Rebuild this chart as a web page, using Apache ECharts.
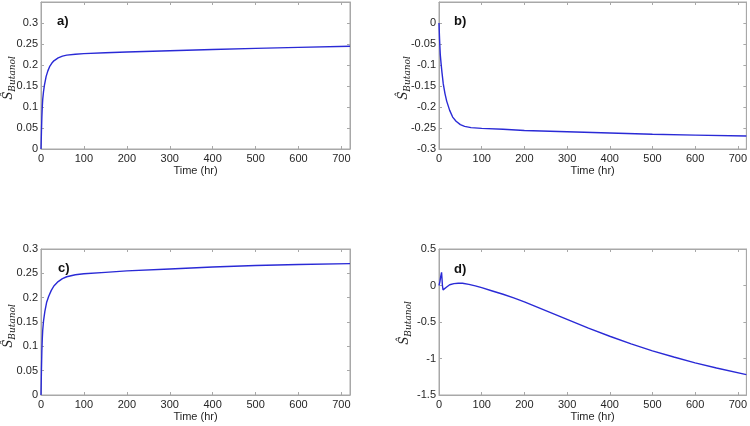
<!DOCTYPE html>
<html><head><meta charset="utf-8">
<script src="https://cdn.jsdelivr.net/npm/echarts@6/dist/echarts.min.js"></script>
<style>html,body{margin:0;padding:0;background:#fff}#c{width:750px;height:426px}</style>
</head><body><div id="c"></div>
<script>
// Panel a
const timeA = [0,1,2,3,4,6,8,12,16,20,25,30,40,50,60,80,100,150,200,300,400,500,600,720];
const valA  = [0,0.04,0.075,0.1,0.118,0.138,0.152,0.173,0.186,0.196,0.204,0.21,0.217,0.221,0.2235,0.2255,0.227,0.229,0.231,0.234,0.237,0.2395,0.242,0.2445];
// Panel b
const timeB = [0,1,2,3,5,7,10,14,18,25,32,40,50,60,75,100,150,200,300,400,500,600,720];
const valB  = [0,-0.03,-0.055,-0.075,-0.098,-0.118,-0.145,-0.168,-0.186,-0.208,-0.224,-0.234,-0.242,-0.246,-0.249,-0.251,-0.253,-0.256,-0.259,-0.262,-0.265,-0.267,-0.269];
// Panel c
const timeC = [0,1,2,3,4,6,9,13,18,24,30,40,50,60,80,100,150,200,300,400,500,600,720];
const valC  = [0,0.05,0.09,0.115,0.133,0.153,0.172,0.19,0.203,0.215,0.224,0.233,0.239,0.243,0.247,0.249,0.252,0.255,0.259,0.263,0.266,0.268,0.27];
// Panel d
const timeD = [0,2,4,6,7,8,9.5,12,18,25,35,45,55,70,85,100,125,150,175,200,250,300,350,400,450,500,550,600,650,720];
const valD  = [0,0.05,0.12,0.18,0.1,0,-0.06,-0.05,-0.02,0.01,0.025,0.03,0.03,0.015,-0.005,-0.03,-0.075,-0.12,-0.17,-0.225,-0.345,-0.465,-0.585,-0.695,-0.8,-0.895,-0.98,-1.06,-1.13,-1.22];

const panelLabels = ['a)','b)','c)','d)'];
const yTitle = '{s|Ŝ}{b|Butanol}';
const xTitle = 'Time (hr)';
const xTicks = {min:0, max:720, interval:100};
const yRanges = [
  {min:0, max:0.35, interval:0.05, hide:[0.35]},
  {min:-0.3, max:0.05, interval:0.05, hide:[0.05]},
  {min:0, max:0.3, interval:0.05, hide:[]},
  {min:-1.5, max:0.5, interval:0.5, hide:[]}
];
const series = [[timeA,valA],[timeB,valB],[timeC,valC],[timeD,valD]];

const grids = [
  {left:41, top:2, width:309, height:147},
  {left:439, top:2, width:309, height:147},
  {left:41, top:249, width:309, height:146},
  {left:439, top:249, width:309, height:146}
];
const yTitlePos = [[10,78],[405,78],[10,326],[406,323]];
const labelPos = [[52,10],[449,10],[53,257],[449,258]];

const axisColor = '#a8a8a8';
const textColor = '#262626';
const font = 'Liberation Sans, Arial, sans-serif';
const serif = 'DejaVu Serif, serif';

const option = {
  animation:false,
  backgroundColor:'#fff',
  grid: grids.map(g => Object.assign({show:true, borderColor:axisColor, borderWidth:1, containLabel:false}, g)),
  title: panelLabels.map((t,i)=>({text:t, left:labelPos[i][0], top:labelPos[i][1],
      textStyle:{fontSize:13, fontWeight:'bold', color:'#111', fontFamily:font}})),
  graphic: yTitlePos.map(p => ({type:'text', x:p[0], y:p[1], rotation:Math.PI/2,
    style:{text:yTitle, align:'center', verticalAlign:'middle', fill:textColor,
      rich:{
        s:{fontSize:12, fontStyle:'italic', fontFamily:serif, fill:textColor, verticalAlign:'top', lineHeight:14},
        b:{fontSize:9, fontStyle:'italic', fontFamily:serif, fill:textColor, verticalAlign:'bottom', lineHeight:14, padding:[4,0,0,0]}
      }}})),
  xAxis: [], yAxis: [], series: []
};

for (let i=0;i<4;i++){
  option.xAxis.push({type:'value', gridIndex:i, min:xTicks.min, max:xTicks.max, interval:xTicks.interval,
    position:'bottom', name:xTitle, nameLocation:'middle', nameGap:16, nameMoveOverlap:false,
    nameTextStyle:{fontSize:11, color:textColor, fontFamily:font},
    axisLine:{show:true, onZero:false, lineStyle:{color:axisColor}},
    axisTick:{show:true, inside:true, length:3, lineStyle:{color:axisColor}},
    axisLabel:{fontSize:11, color:textColor, fontFamily:font, margin:4, showMaxLabel:false},
    splitLine:{show:false}});
  option.xAxis.push({type:'value', gridIndex:i, min:xTicks.min, max:xTicks.max, interval:xTicks.interval,
    position:'top',
    axisLine:{show:true, onZero:false, lineStyle:{color:axisColor}},
    axisTick:{show:true, inside:true, length:3, lineStyle:{color:axisColor}},
    axisLabel:{show:false}, splitLine:{show:false}});
  const yr = yRanges[i];
  option.yAxis.push({type:'value', gridIndex:i, min:yr.min, max:yr.max, interval:yr.interval,
    position:'left',
    axisLine:{show:true, onZero:false, lineStyle:{color:axisColor}},
    axisTick:{show:true, inside:true, length:3, lineStyle:{color:axisColor}},
    axisLabel:{fontSize:11, color:textColor, fontFamily:font, margin:3,
      formatter: v => yr.hide.some(h=>Math.abs(h-v)<1e-9) ? '' : String(+v.toFixed(4))},
    splitLine:{show:false}});
  option.yAxis.push({type:'value', gridIndex:i, min:yr.min, max:yr.max, interval:yr.interval,
    position:'right',
    axisLine:{show:true, onZero:false, lineStyle:{color:axisColor}},
    axisTick:{show:true, inside:true, length:3, lineStyle:{color:axisColor}},
    axisLabel:{show:false}, splitLine:{show:false}});
  const [t,v] = series[i];
  option.series.push({type:'line', xAxisIndex:2*i, yAxisIndex:2*i, showSymbol:false,
    smooth:false,
    lineStyle:{color:'#2a2ad6', width:1.4},
    data: t.map((x,k)=>[x, v[k]])});
}

const chart = echarts.init(document.getElementById('c'), null, {renderer:'canvas'});
chart.setOption(option);
</script></body></html>
